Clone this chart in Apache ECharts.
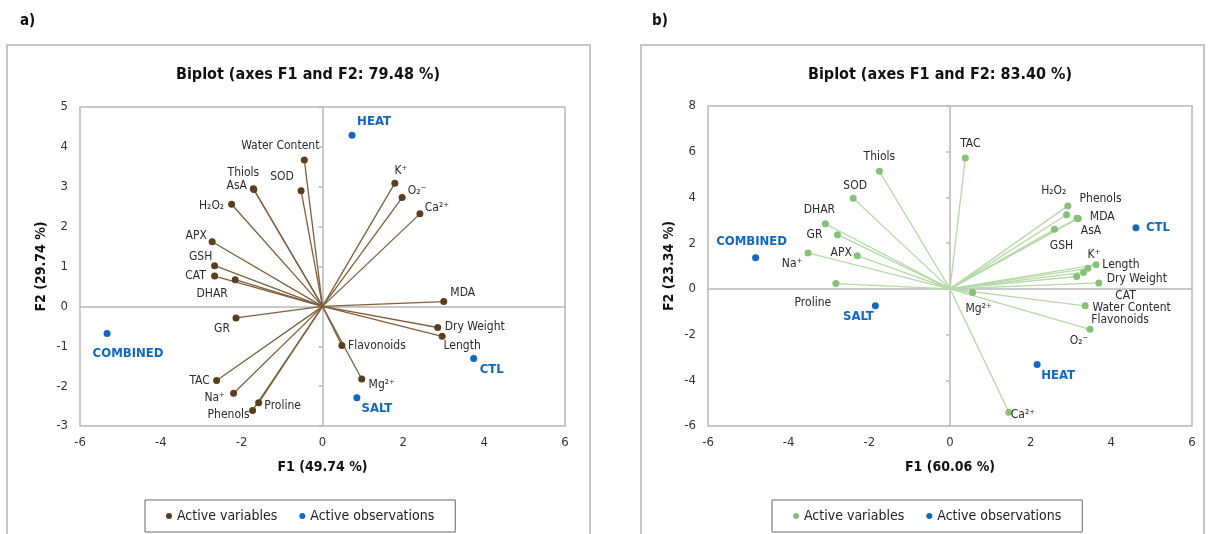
<!DOCTYPE html>
<html>
<head>
<meta charset="utf-8">
<script src="https://cdn.jsdelivr.net/npm/echarts@6/dist/echarts.min.js"></script>
<style>html,body{margin:0;padding:0;background:#fff}#c{width:1209px;height:534px}</style>
</head>
<body>
<div id="c"></div>
<script>
// ---------- Panel a data ----------
const varNamesA = ['Water Content','SOD','Thiols','AsA','H₂O₂','APX','GSH','CAT','DHAR','GR','TAC','Na⁺','Proline','Phenols','K⁺','O₂⁻','Ca²⁺','MDA','Dry Weight','Length','Flavonoids','Mg²⁺'];
const varF1A = [-0.45,-0.53,-1.71,-1.70,-2.25,-2.73,-2.67,-2.67,-2.16,-2.14,-2.62,-2.20,-1.58,-1.73,1.79,1.97,2.41,3.00,2.85,2.96,0.48,0.97];
const varF2A = [3.67,2.90,2.95,2.93,2.56,1.62,1.02,0.76,0.67,-0.29,-1.86,-2.18,-2.42,-2.61,3.09,2.73,2.32,0.12,-0.53,-0.75,-0.98,-1.82];
const obsNamesA = ['HEAT','COMBINED','CTL','SALT'];
const obsF1A = [0.73,-5.33,3.74,0.85];
const obsF2A = [4.29,-0.68,-1.31,-2.29];

// ---------- Panel b data ----------
const varNamesB = ['TAC','Thiols','SOD','DHAR','GR','APX','Na⁺','Proline','H₂O₂','Phenols','MDA','AsA','GSH','K⁺','Length','CAT','Water Content','Dry Weight','Flavonoids','O₂⁻','Mg²⁺','Ca²⁺'];
const varF1B = [0.38,-1.75,-2.40,-3.09,-2.79,-2.30,-3.52,-2.83,2.92,2.89,3.18,3.15,2.59,3.62,3.42,3.31,3.14,3.69,3.35,3.47,0.56,1.46];
const varF2B = [5.73,5.14,3.96,2.85,2.37,1.45,1.57,0.23,3.63,3.24,3.08,3.09,2.61,1.06,0.90,0.72,0.54,0.26,-0.74,-1.77,-0.16,-5.40];
const obsNamesB = ['COMBINED','SALT','HEAT','CTL'];
const obsF1B = [-4.82,-1.85,2.16,4.61];
const obsF2B = [1.36,-0.74,-3.31,2.67];

// ---------- label offsets (style only) ----------
const offA = {'Water Content':[-24,-14],'SOD':[-19,-14],'Thiols':[-10,-16],'AsA':[-17,-4],'H₂O₂':[-20,2],'APX':[-16,-6],'GSH':[-14,-9],'CAT':[-19,0],'DHAR':[-23,14],'GR':[-14,11],'TAC':[-17,0],'Na⁺':[-19,5],'Proline':[24,3],'Phenols':[-24,4],'K⁺':[6,-12],'O₂⁻':[15,-7],'Ca²⁺':[17,-6],'MDA':[19,-9],'Dry Weight':[37,-1],'Length':[20,10],'Flavonoids':[35,0],'Mg²⁺':[20,6],
  'HEAT':[22,-14],'COMBINED':[21,20],'CTL':[18,11],'SALT':[20,11]};
const offB = {'TAC':[5,-14],'Thiols':[0,-14],'SOD':[2,-12],'DHAR':[-6,-14],'GR':[-23,0],'APX':[-16,-3],'Na⁺':[-16,11],'Proline':[-23,19],'H₂O₂':[-14,-15],'Phenols':[34,-16],'MDA':[24,-2],'AsA':[14,13],'GSH':[7,17],'K⁺':[-2,-10],'Length':[33,-3],'CAT':[42,23],'Water Content':[55,31],'Dry Weight':[38,-4],'Flavonoids':[35,14],'O₂⁻':[-11,12],'Mg²⁺':[6,16],'Ca²⁺':[14,3],
  'COMBINED':[-4,-16],'SALT':[-17,11],'HEAT':[21,11],'CTL':[22,0]};

const FONT = '"Liberation Sans Narrow","DejaVu Sans Condensed",sans-serif';
const BLUE = '#1068c0';
const panels = [
  {names:varNamesA,f1:varF1A,f2:varF2A,on:obsNamesA,o1:obsF1A,o2:obsF2A,off:offA,dot:'#5a3e1e',line:'#7d5f3c',
   grid:{left:80,top:107,width:485,height:319},ymin:-3,ymax:5,yint:1,xname:'F1 (49.74 %)',yname:'F2 (29.74 %)',
   title:'Biplot (axes F1 and F2: 79.48 %)',tx:303,legLeft:145},
  {names:varNamesB,f1:varF1B,f2:varF2B,on:obsNamesB,o1:obsF1B,o2:obsF2B,off:offB,dot:'#86c276',line:'#b5d9a8',
   grid:{left:708,top:106,width:484,height:320},ymin:-6,ymax:8,yint:2,xname:'F1 (60.06 %)',yname:'F2 (23.34 %)',
   title:'Biplot (axes F1 and F2: 83.40 %)',tx:935,legLeft:772}
];

const option = {animation:false, textStyle:{fontFamily:FONT}, title:[], grid:[], xAxis:[], yAxis:[], series:[], legend:[],
  graphic:[
    {type:'rect',shape:{x:7,y:45,width:583,height:500},style:{fill:'none',stroke:'#c4c4c4',lineWidth:2},silent:true},
    {type:'rect',shape:{x:641,y:45,width:563,height:500},style:{fill:'none',stroke:'#c4c4c4',lineWidth:2},silent:true},
    {type:'text',left:20,top:14,style:{text:'a)',font:'bold 15px '+FONT,fill:'#111'}},
    {type:'text',left:652,top:14,style:{text:'b)',font:'bold 15px '+FONT,fill:'#111'}}
  ]};
const legendNames = {};
panels.forEach((p,i)=>{
  option.title.push({text:p.title,left:p.tx,top:62,textAlign:'center',textStyle:{fontFamily:FONT,fontWeight:'bold',fontSize:16,color:'#111'}});
  option.grid.push(Object.assign({show:true,borderColor:'#b8b8b8',borderWidth:1.5,backgroundColor:'transparent'},p.grid));
  const axLbl = {color:'#333',fontSize:13,fontFamily:FONT};
  option.xAxis.push({type:'value',gridIndex:i,min:-6,max:6,interval:2,position:'bottom',
    axisLine:{show:false,onZero:false},axisTick:{show:false},splitLine:{show:false},axisLabel:Object.assign({margin:10},axLbl),
    name:p.xname,nameLocation:'middle',nameGap:34,nameTextStyle:{fontFamily:FONT,fontWeight:'bold',fontSize:14,color:'#111'}});
  option.xAxis.push({type:'value',gridIndex:i,min:-6,max:6,interval:2,
    axisLine:{show:true,onZero:true,lineStyle:{color:'#b8b8b8',width:1.5}},axisTick:{show:false},axisLabel:{show:false},splitLine:{show:false}});
  option.yAxis.push({type:'value',gridIndex:i,min:p.ymin,max:p.ymax,interval:p.yint,position:'left',
    axisLine:{show:false,onZero:false},axisTick:{show:false},splitLine:{show:false},axisLabel:Object.assign({margin:12},axLbl),
    name:p.yname,nameLocation:'middle',nameGap:32,nameRotate:90,nameTextStyle:{fontFamily:FONT,fontWeight:'bold',fontSize:14,color:'#111'}});
  option.yAxis.push({type:'value',gridIndex:i,min:p.ymin,max:p.ymax,interval:p.yint,position:'left',
    axisLine:{show:true,onZero:true,onZeroAxisIndex:i*2+1,lineStyle:{color:'#b8b8b8',width:1.5}},
    axisTick:{show:true,length:4,lineStyle:{color:'#b8b8b8',width:1.5}},axisLabel:{show:false},splitLine:{show:false}});
  const xi = i*2, yi = i*2;
  const vdata = p.names.map((n,k)=>({name:n,value:[p.f1[k],p.f2[k]],label:{offset:p.off[n]||[0,-10]}}));
  const odata = p.on.map((n,k)=>({name:n,value:[p.o1[k],p.o2[k]],label:{offset:p.off[n]||[0,-10]}}));
  option.series.push({type:'custom',xAxisIndex:xi,yAxisIndex:yi,z:1,silent:true,
    data:p.names.map((n,k)=>[p.f1[k],p.f2[k]]),encode:{x:0,y:1},
    renderItem:(params,api)=>{const a=api.coord([0,0]);const b=api.coord([api.value(0),api.value(1)]);
      return {type:'line',shape:{x1:a[0],y1:a[1],x2:b[0],y2:b[1]},style:{stroke:p.line,lineWidth:1.3}};}});
  const vn = 'var'+i, on = 'obs'+i;
  legendNames[vn]='Active variables'; legendNames[on]='Active observations';
  option.series.push({type:'scatter',name:vn,xAxisIndex:xi,yAxisIndex:yi,z:3,symbolSize:7,itemStyle:{color:p.dot,opacity:1},data:vdata,
    label:{show:true,position:'inside',formatter:'{b}',color:'#2a2a2a',fontSize:12,fontFamily:FONT,align:'center',verticalAlign:'middle'}});
  option.series.push({type:'scatter',name:on,xAxisIndex:xi,yAxisIndex:yi,z:4,symbolSize:7,itemStyle:{color:BLUE,opacity:1},data:odata,
    label:{show:true,position:'inside',formatter:'{b}',color:BLUE,fontWeight:'bold',fontSize:13,fontFamily:FONT,align:'center',verticalAlign:'middle'}});
  option.legend.push({data:[vn,on],left:p.legLeft,top:500,orient:'horizontal',icon:'circle',itemWidth:6,itemHeight:6,itemGap:22,
    padding:[9,21],borderColor:'#666',borderWidth:1,formatter:n=>legendNames[n],
    textStyle:{fontFamily:FONT,fontSize:14,color:'#222'}});
});
const chart = echarts.init(document.getElementById('c'),null,{renderer:'canvas'});
chart.setOption(option);
</script>
</body>
</html>
